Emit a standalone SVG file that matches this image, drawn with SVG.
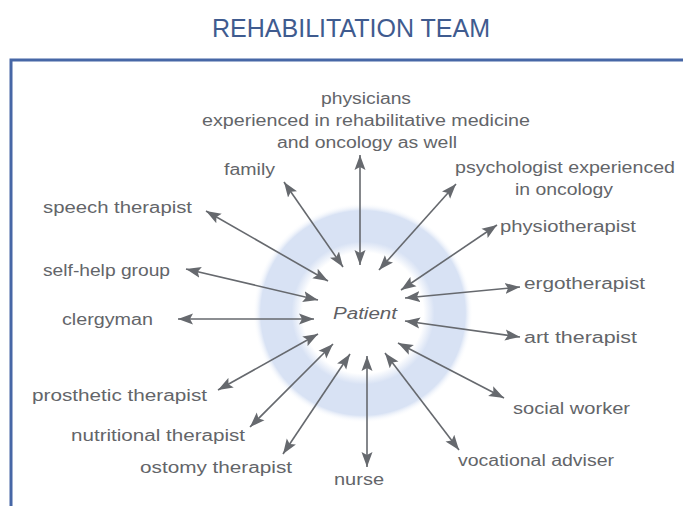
<svg xmlns="http://www.w3.org/2000/svg" width="683" height="506" viewBox="0 0 683 506">
  <defs>
    <style>
      .title { font-family: "Liberation Sans", Arial, sans-serif; font-size: 25px; fill: #3f5b8f; }
      .lbl { font-family: "Liberation Sans", Arial, sans-serif; font-size: 16px; fill: #636569; }
      .pt { font-family: "Liberation Sans", Arial, sans-serif; font-size: 16px; font-style: italic; fill: #5e6064; }
      .con { stroke: #66696e; stroke-width: 1.6; fill: none; marker-start: url(#ah); marker-end: url(#ah); }
      .frame { stroke: #4767a6; stroke-width: 3; fill: none; }
    </style>
    <marker id="ah" markerUnits="userSpaceOnUse" markerWidth="16" markerHeight="12" refX="15" refY="5.5" orient="auto-start-reverse" viewBox="0 0 16 11">
      <path d="M0,0 L15,5.5 L0,11 L3,5.5 z" fill="#66696e"/>
    </marker>
    <radialGradient id="ring" cx="0.5" cy="0.5" r="0.5">
      <stop offset="0" stop-color="#ffffff"/>
      <stop offset="0.55" stop-color="#ffffff"/>
      <stop offset="0.65" stop-color="#d8e2f4"/>
      <stop offset="0.93" stop-color="#d8e2f4"/>
      <stop offset="1" stop-color="#ffffff" stop-opacity="0"/>
    </radialGradient>
  </defs>

  <rect width="683" height="506" fill="#ffffff"/>

  <text class="title" x="351" y="37" text-anchor="middle" textLength="278" lengthAdjust="spacingAndGlyphs">REHABILITATION TEAM</text>

  <!-- frame -->
  <path class="frame" d="M11,506 V60 H683"/>

  <!-- patient halo -->
  <g id="patient">
    <circle cx="363" cy="313" r="110" fill="url(#ring)"/>
    <text class="pt" x="365" y="319" text-anchor="middle" textLength="64" lengthAdjust="spacingAndGlyphs">Patient</text>
  </g>

  <!-- connectors -->
  <g id="connectors">
    <line class="con" x1="360" y1="155" x2="360" y2="265"/>
    <line class="con" x1="284" y1="182" x2="343" y2="267"/>
    <line class="con" x1="456" y1="184" x2="379" y2="270"/>
    <line class="con" x1="206" y1="211" x2="328" y2="281"/>
    <line class="con" x1="497" y1="225" x2="401" y2="290"/>
    <line class="con" x1="186" y1="269" x2="318" y2="300"/>
    <line class="con" x1="520" y1="287" x2="405" y2="298"/>
    <line class="con" x1="178" y1="319" x2="314" y2="319"/>
    <line class="con" x1="520" y1="337" x2="405" y2="321"/>
    <line class="con" x1="218" y1="390" x2="318" y2="334"/>
    <line class="con" x1="250" y1="427" x2="333" y2="344"/>
    <line class="con" x1="283" y1="454" x2="350" y2="354"/>
    <line class="con" x1="367" y1="467" x2="367" y2="356"/>
    <line class="con" x1="459" y1="450" x2="385" y2="353"/>
    <line class="con" x1="504" y1="398" x2="398" y2="343"/>
  </g>

  <!-- team members -->
  <g id="physicians">
    <text class="lbl" x="366" y="104" text-anchor="middle" textLength="90" lengthAdjust="spacingAndGlyphs">physicians</text>
    <text class="lbl" x="366" y="126" text-anchor="middle" textLength="328" lengthAdjust="spacingAndGlyphs">experienced in rehabilitative medicine</text>
    <text class="lbl" x="367" y="148" text-anchor="middle" textLength="180" lengthAdjust="spacingAndGlyphs">and oncology as well</text>
  </g>
  <g id="family"><text class="lbl" x="224" y="175" textLength="51" lengthAdjust="spacingAndGlyphs">family</text></g>
  <g id="psychologist">
    <text class="lbl" x="455" y="173" textLength="220" lengthAdjust="spacingAndGlyphs">psychologist experienced</text>
    <text class="lbl" x="515" y="195" textLength="98" lengthAdjust="spacingAndGlyphs">in oncology</text>
  </g>
  <g id="speech"><text class="lbl" x="43" y="213" textLength="149" lengthAdjust="spacingAndGlyphs">speech therapist</text></g>
  <g id="physio"><text class="lbl" x="500" y="232" textLength="136" lengthAdjust="spacingAndGlyphs">physiotherapist</text></g>
  <g id="selfhelp"><text class="lbl" x="43" y="276" textLength="127" lengthAdjust="spacingAndGlyphs">self-help group</text></g>
  <g id="ergo"><text class="lbl" x="524" y="289" textLength="121" lengthAdjust="spacingAndGlyphs">ergotherapist</text></g>
  <g id="clergyman"><text class="lbl" x="62" y="325" textLength="91" lengthAdjust="spacingAndGlyphs">clergyman</text></g>
  <g id="art"><text class="lbl" x="524" y="343" textLength="113" lengthAdjust="spacingAndGlyphs">art therapist</text></g>
  <g id="prosthetic"><text class="lbl" x="32" y="401" textLength="175" lengthAdjust="spacingAndGlyphs">prosthetic therapist</text></g>
  <g id="social"><text class="lbl" x="513" y="414" textLength="117" lengthAdjust="spacingAndGlyphs">social worker</text></g>
  <g id="nutritional"><text class="lbl" x="71" y="441" textLength="174" lengthAdjust="spacingAndGlyphs">nutritional therapist</text></g>
  <g id="vocational"><text class="lbl" x="458" y="466" textLength="156" lengthAdjust="spacingAndGlyphs">vocational adviser</text></g>
  <g id="ostomy"><text class="lbl" x="140" y="473" textLength="152" lengthAdjust="spacingAndGlyphs">ostomy therapist</text></g>
  <g id="nurse"><text class="lbl" x="334" y="485" textLength="50" lengthAdjust="spacingAndGlyphs">nurse</text></g>
</svg>
